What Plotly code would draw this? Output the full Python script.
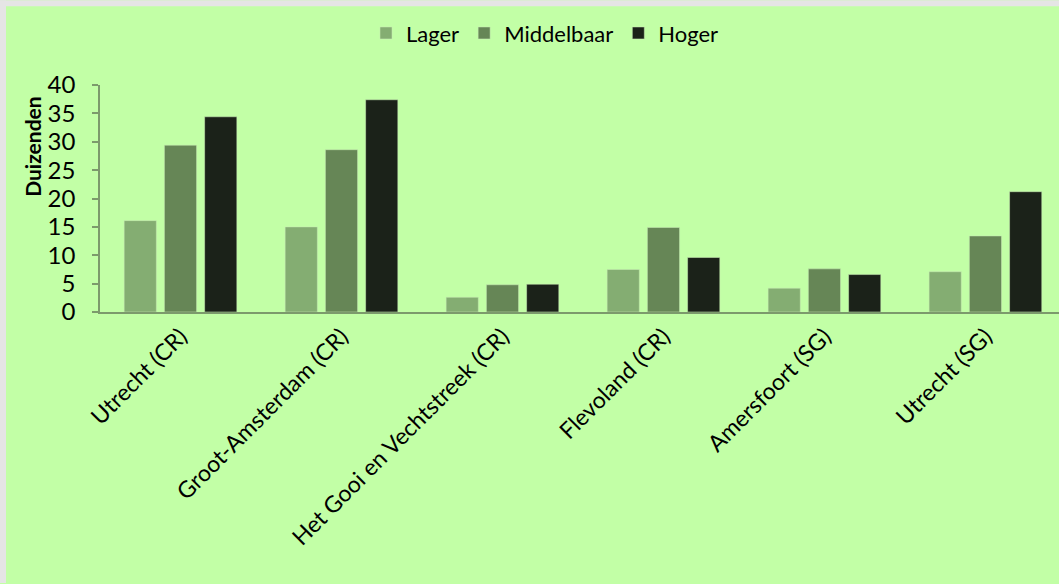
import plotly.graph_objects as go

# Regio's en aantallen (x 1000) per opleidingsniveau
regions = [
    "Utrecht (CR)",
    "Groot-Amsterdam (CR)",
    "Het Gooi en Vechtstreek (CR)",
    "Flevoland (CR)",
    "Amersfoort (SG)",
    "Utrecht (SG)",
]
lager = [16.1, 15.0, 2.6, 7.5, 4.2, 7.1]
middelbaar = [29.4, 28.6, 4.8, 14.9, 7.6, 13.4]
hoger = [34.4, 37.4, 4.9, 9.6, 6.6, 21.2]

series_names = ["Lager", "Middelbaar", "Hoger"]
series_colors = ["#84AD72", "#668656", "#1B2219"]

W, H = 1059, 584
L, R, T, B = 100, 0, 85, 271.5
pw, ph = W - L - R, H - T - B

BG = "#C2FFA6"
EDGE = "#E5E5E5"
AXIS = "#7C9A6C"
FONT = "Lato, 'Open Sans', sans-serif"

fig = go.Figure()
for name, vals, col in zip(series_names, [lager, middelbaar, hoger], series_colors):
    fig.add_trace(go.Bar(
        name=name, x=regions, y=vals,
        marker=dict(color=col, line=dict(color="rgba(200,235,180,0.55)", width=1)),
    ))


def px_x(p):
    return (p - L) / pw


def px_y(p):
    return (H - B - p) / ph


# light-gray page edge along the top and left
fig.add_shape(type="rect", xref="paper", yref="paper", layer="below",
              x0=px_x(0), x1=px_x(W), y0=px_y(0), y1=px_y(6),
              fillcolor=EDGE, line=dict(width=0))
fig.add_shape(type="rect", xref="paper", yref="paper", layer="below",
              x0=px_x(0), x1=px_x(6), y0=px_y(0), y1=px_y(H),
              fillcolor=EDGE, line=dict(width=0))

# y-axis title, placed in the upper half of the axis
fig.add_annotation(
    text="<b>Duizenden</b>", textangle=-90,
    xref="paper", yref="paper", x=px_x(33), y=px_y(147),
    xanchor="center", yanchor="middle", showarrow=False,
    font=dict(size=21, color="#000000"),
)

fig.update_layout(
    width=W, height=H,
    margin=dict(l=L, r=R, t=T, b=B, pad=0),
    paper_bgcolor=BG, plot_bgcolor=BG,
    barmode="group", bargap=0.25, bargroupgap=0.2,
    font=dict(family=FONT, size=22, color="#000000"),
    showlegend=True,
    legend=dict(
        orientation="h", x=px_x(545), xanchor="center",
        y=px_y(12), yanchor="top",
        font=dict(size=22, color="#000000"),
        bgcolor="rgba(0,0,0,0)", traceorder="normal",
    ),
    xaxis=dict(
        type="category",
        range=[-0.5, 5.457],
        showline=True, linecolor=AXIS, linewidth=2,
        ticks="", showgrid=False, zeroline=False,
        tickangle=-45, tickfont=dict(size=23, color="#000000"),
    ),
    yaxis=dict(
        range=[0, 40], tickvals=[0, 5, 10, 15, 20, 25, 30, 35, 40],
        showline=True, linecolor=AXIS, linewidth=1.5,
        ticks="outside", ticklen=6, tickcolor=AXIS, tickwidth=1.5,
        showgrid=False, zeroline=False,
        tickfont=dict(size=24, color="#000000"),
        ticklabelstandoff=12,
    ),
)

fig.write_html("out.html")
